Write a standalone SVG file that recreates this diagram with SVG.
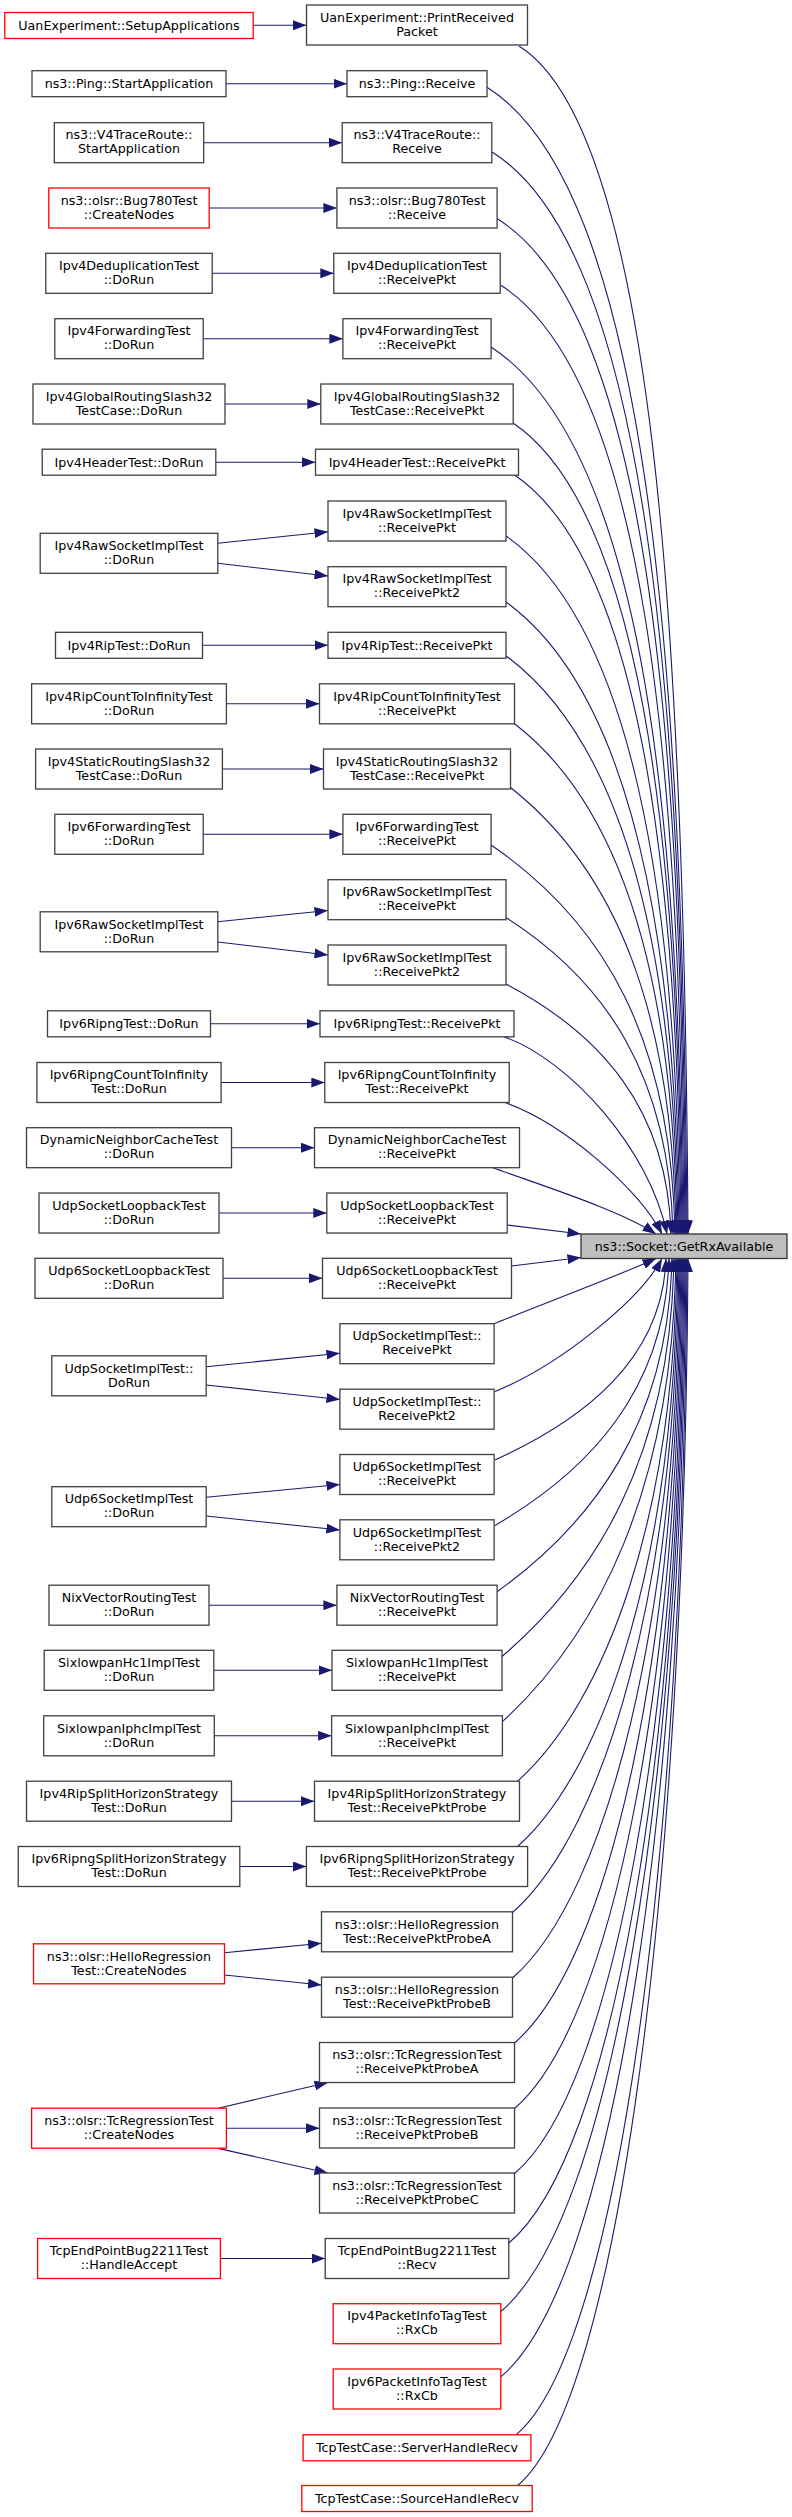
<svg xmlns="http://www.w3.org/2000/svg" width="792" height="2517" viewBox="0 0 792 2517">
<defs>
<marker id="ah" markerWidth="14" markerHeight="10" refX="13.5" refY="5" orient="auto" markerUnits="userSpaceOnUse" viewBox="0 0 14 10"><path d="M0,0 L13.5,5 L0,10 Z" fill="#191970"/></marker>
<style>
rect{fill:#ffffff;stroke:#404040;stroke-width:1.3}
.r rect{stroke:#ff0000}
.t rect{fill:#bfbfbf;stroke:#333333}
text{font-family:"DejaVu Sans","Liberation Sans",sans-serif;font-size:12.7px;text-anchor:middle;fill:#000000}
#edges path{fill:none;stroke:#191970;stroke-width:1.1;marker-end:url(#ah)}
</style>
</defs>
<rect x="0" y="0" width="792" height="2517" style="fill:#ffffff;stroke:none"/>

<g id="edges">
<path d="M253.2,25.3 L306.5,25.3"/>
<path d="M226,83.7 L347,83.7"/>
<path d="M203.4,142.7 L342.2,142.7"/>
<path d="M209.2,208 L336.9,208"/>
<path d="M212.2,273.3 L333.8,273.3"/>
<path d="M203.2,338.7 L342.9,338.7"/>
<path d="M225,404 L320.8,404"/>
<path d="M215.8,462.2 L315.5,462.2"/>
<path d="M217.8,543.3 L328,531.7"/>
<path d="M217.8,563.3 L328,576"/>
<path d="M202.5,645.3 L328,645.3"/>
<path d="M226.4,703.8 L319.5,703.8"/>
<path d="M222.4,769 L323.5,769"/>
<path d="M203.2,834.3 L342.9,834.3"/>
<path d="M217.8,921.7 L328,910.5"/>
<path d="M217.8,942 L328,955"/>
<path d="M210.5,1023.8 L320,1023.8"/>
<path d="M221.1,1082.5 L324.8,1082.5"/>
<path d="M231.5,1147.7 L314.5,1147.7"/>
<path d="M219,1213 L326.8,1213"/>
<path d="M223,1278.3 L322.5,1278.3"/>
<path d="M206.2,1366.7 L339.9,1353.3"/>
<path d="M206.2,1385 L339.9,1399.5"/>
<path d="M206.2,1497.3 L339.9,1484.5"/>
<path d="M206.2,1516 L339.9,1530"/>
<path d="M209,1605.2 L336.9,1605.2"/>
<path d="M213.8,1670.3 L332,1670.3"/>
<path d="M214.3,1735.8 L331.6,1735.8"/>
<path d="M231.5,1801.2 L314.5,1801.2"/>
<path d="M239.8,1866.5 L306.4,1866.5"/>
<path d="M224.5,1952.7 L321.5,1943.3"/>
<path d="M224.5,1975 L321.5,1985"/>
<path d="M218,2108.2 L328,2082.5"/>
<path d="M226.4,2128.2 L319.5,2128.2"/>
<path d="M218,2148.4 L328,2173"/>
<path d="M220.9,2258.5 L325.2,2258.5"/>

<path d="M519,46 C654.2,130.5 684.6,640 688,1234"/>
<path d="M487,87.3 C647,187.3 683,660.7 687,1234"/>
<path d="M492,152 C647.2,249 682.1,693 686,1234"/>
<path d="M497,218.5 C647.4,312.5 681.2,726.3 685,1234"/>
<path d="M500.5,285 C644.5,376.8 680.3,759.5 684,1234"/>
<path d="M491,347 C638.1,443 679.2,790.5 683,1234"/>
<path d="M513,423 C638.6,507.5 678.6,828.5 682,1234"/>
<path d="M515,475.2 C635.8,558.2 677.7,854.6 681,1234"/>
<path d="M506,536 C629.4,623 676.5,885 680,1234"/>
<path d="M506,602 C625.4,688.5 675.5,918 679,1234"/>
<path d="M506,655.7 C621.8,741.7 674.6,944.9 678,1234"/>
<path d="M514.5,723.8 C620.6,805 673.7,978.9 677,1234"/>
<path d="M510.5,787.5 C615.4,870.3 672.7,1010.8 676,1234"/>
<path d="M491.1,845 C604.6,922.8 671.3,1039.5 675,1234"/>
<path d="M506,917.5 C605.4,980.8 669.7,1075.8 673,1234"/>
<path d="M506,984 C600.9,1034 667.7,1109 671,1234"/>
<path d="M504,1036.8 C570,1060 650,1150 667,1234"/>
<path d="M505,1102.5 C565,1124 640,1190 662,1234"/>
<path d="M493,1167.7 C540,1185 620,1210 656,1234"/>
<path d="M507.2,1225 L581,1234"/>

<path d="M511.5,1266 L581,1257.5"/>
<path d="M494,1323.7 C540,1305 620,1275 656,1258.5"/>
<path d="M495,1391.5 C560,1365 640,1300 662,1258.5"/>
<path d="M495,1460 C583.9,1419.7 662.6,1359.3 666,1258.5"/>
<path d="M495,1525.5 C586.7,1472.1 665.5,1392 669,1258.5"/>
<path d="M497.1,1591.7 C590.3,1525.1 668.5,1425.1 672,1258.5"/>
<path d="M502,1656.5 C594.9,1576.9 670.6,1457.5 674,1258.5"/>
<path d="M502.4,1721.7 C597.2,1634.9 672.5,1490.1 676,1258.5"/>
<path d="M517.6,1781.2 C605.6,1701.5 673.8,1519.9 677,1258.5"/>
<path d="M517.6,1846.5 C607.3,1766.3 674.8,1552.5 678,1258.5"/>
<path d="M512.5,1912.5 C606.6,1829.3 675.7,1585.5 679,1258.5"/>
<path d="M512.5,1978 C608.3,1894.3 676.7,1618.3 680,1258.5"/>
<path d="M514.5,2043 C610.7,1959.8 677.7,1650.8 681,1258.5"/>
<path d="M514.5,2108.5 C612.5,2024.8 678.7,1683.5 682,1258.5"/>
<path d="M514.5,2173.5 C614.2,2089.3 679.6,1716 683,1258.5"/>
<path d="M508.8,2243 C613.6,2155.4 680.5,1750.8 684,1258.5"/>
<path d="M500.8,2311.5 C611.3,2219.4 681.3,1785 685,1258.5"/>
<path d="M500.8,2376.8 C612,2284.2 682.3,1817.7 686,1258.5"/>
<path d="M516,2434.8 C618.6,2349.3 683.6,1846.7 687,1258.5"/>
<path d="M517.6,2485.5 C619.8,2400.3 684.6,1872 688,1258.5"/>
</g>

<g id="target" class="t"><rect x="581" y="1234" width="206" height="24.5"/><text x="684" y="1250.6">ns3::Socket::GetRxAvailable</text></g>

<g id="L1" class="r"><rect x="4.8" y="12.5" width="248.4" height="26"/><text x="129" y="29.9">UanExperiment::SetupApplications</text></g>
<g id="L2"><rect x="32" y="70.7" width="194" height="26"/><text x="129" y="88.1">ns3::Ping::StartApplication</text></g>
<g id="L3"><rect x="54.3" y="122.7" width="149.4" height="40"/><text x="129" y="139.4">ns3::V4TraceRoute::</text><text x="129" y="153.4">StartApplication</text></g>
<g id="L4" class="r"><rect x="48.8" y="188" width="160.4" height="40"/><text x="129" y="204.7">ns3::olsr::Bug780Test</text><text x="129" y="218.7">::CreateNodes</text></g>
<g id="L5"><rect x="45.8" y="253.3" width="166.4" height="40"/><text x="129" y="270">Ipv4DeduplicationTest</text><text x="129" y="284">::DoRun</text></g>
<g id="L6"><rect x="54.8" y="318.7" width="148.4" height="40"/><text x="129" y="335.4">Ipv4ForwardingTest</text><text x="129" y="349.4">::DoRun</text></g>
<g id="L7"><rect x="33" y="384" width="192" height="40"/><text x="129" y="400.7">Ipv4GlobalRoutingSlash32</text><text x="129" y="414.7">TestCase::DoRun</text></g>
<g id="L8"><rect x="42.2" y="449.2" width="173.6" height="26"/><text x="129" y="466.6">Ipv4HeaderTest::DoRun</text></g>
<g id="L9"><rect x="40.2" y="533.3" width="177.6" height="40"/><text x="129" y="550">Ipv4RawSocketImplTest</text><text x="129" y="564">::DoRun</text></g>
<g id="L10"><rect x="55.5" y="632.3" width="147" height="26"/><text x="129" y="649.7">Ipv4RipTest::DoRun</text></g>
<g id="L11"><rect x="31.6" y="683.8" width="194.8" height="40"/><text x="129" y="700.5">Ipv4RipCountToInfinityTest</text><text x="129" y="714.5">::DoRun</text></g>
<g id="L12"><rect x="35.6" y="749" width="186.8" height="40"/><text x="129" y="765.7">Ipv4StaticRoutingSlash32</text><text x="129" y="779.7">TestCase::DoRun</text></g>
<g id="L13"><rect x="54.8" y="814.3" width="148.4" height="40"/><text x="129" y="831">Ipv6ForwardingTest</text><text x="129" y="845">::DoRun</text></g>
<g id="L14"><rect x="40.2" y="911.8" width="177.6" height="40"/><text x="129" y="928.5">Ipv6RawSocketImplTest</text><text x="129" y="942.5">::DoRun</text></g>
<g id="L15"><rect x="47.5" y="1010.8" width="163" height="26"/><text x="129" y="1028.2">Ipv6RipngTest::DoRun</text></g>
<g id="L16"><rect x="36.9" y="1062.5" width="184.2" height="40"/><text x="129" y="1079.2">Ipv6RipngCountToInfinity</text><text x="129" y="1093.2">Test::DoRun</text></g>
<g id="L17"><rect x="26.5" y="1127.7" width="205" height="40"/><text x="129" y="1144.4">DynamicNeighborCacheTest</text><text x="129" y="1158.4">::DoRun</text></g>
<g id="L18"><rect x="39" y="1193" width="180" height="40"/><text x="129" y="1209.7">UdpSocketLoopbackTest</text><text x="129" y="1223.7">::DoRun</text></g>
<g id="L19"><rect x="35" y="1258.3" width="188" height="40"/><text x="129" y="1275">Udp6SocketLoopbackTest</text><text x="129" y="1289">::DoRun</text></g>
<g id="L20"><rect x="51.8" y="1355.8" width="154.4" height="40"/><text x="129" y="1372.5">UdpSocketImplTest::</text><text x="129" y="1386.5">DoRun</text></g>
<g id="L21"><rect x="51.8" y="1486.7" width="154.4" height="40"/><text x="129" y="1503.4">Udp6SocketImplTest</text><text x="129" y="1517.4">::DoRun</text></g>
<g id="L22"><rect x="49" y="1585.2" width="160" height="40"/><text x="129" y="1601.9">NixVectorRoutingTest</text><text x="129" y="1615.9">::DoRun</text></g>
<g id="L23"><rect x="44.2" y="1650.3" width="169.6" height="40"/><text x="129" y="1667">SixlowpanHc1ImplTest</text><text x="129" y="1681">::DoRun</text></g>
<g id="L24"><rect x="43.7" y="1715.8" width="170.6" height="40"/><text x="129" y="1732.5">SixlowpanIphcImplTest</text><text x="129" y="1746.5">::DoRun</text></g>
<g id="L25"><rect x="26.5" y="1781.2" width="205" height="40"/><text x="129" y="1797.9">Ipv4RipSplitHorizonStrategy</text><text x="129" y="1811.9">Test::DoRun</text></g>
<g id="L26"><rect x="18.2" y="1846.5" width="221.6" height="40"/><text x="129" y="1863.2">Ipv6RipngSplitHorizonStrategy</text><text x="129" y="1877.2">Test::DoRun</text></g>
<g id="L27" class="r"><rect x="33.5" y="1943.8" width="191" height="40"/><text x="129" y="1960.5">ns3::olsr::HelloRegression</text><text x="129" y="1974.5">Test::CreateNodes</text></g>
<g id="L28" class="r"><rect x="31.6" y="2108.2" width="194.8" height="40"/><text x="129" y="2124.9">ns3::olsr::TcRegressionTest</text><text x="129" y="2138.9">::CreateNodes</text></g>
<g id="L29" class="r"><rect x="37.6" y="2238.5" width="182.8" height="40"/><text x="129" y="2255.2">TcpEndPointBug2211Test</text><text x="129" y="2269.2">::HandleAccept</text></g>

<g id="M1"><rect x="306.5" y="5" width="221" height="40"/><text x="417" y="21.7">UanExperiment::PrintReceived</text><text x="417" y="35.7">Packet</text></g>
<g id="M2"><rect x="347" y="70.7" width="140" height="26"/><text x="417" y="88.1">ns3::Ping::Receive</text></g>
<g id="M3"><rect x="342.2" y="122.7" width="149.6" height="40"/><text x="417" y="139.4">ns3::V4TraceRoute::</text><text x="417" y="153.4">Receive</text></g>
<g id="M4"><rect x="336.9" y="188" width="160.2" height="40"/><text x="417" y="204.7">ns3::olsr::Bug780Test</text><text x="417" y="218.7">::Receive</text></g>
<g id="M5"><rect x="333.8" y="253.3" width="166.4" height="40"/><text x="417" y="270">Ipv4DeduplicationTest</text><text x="417" y="284">::ReceivePkt</text></g>
<g id="M6"><rect x="342.9" y="318.7" width="148.2" height="40"/><text x="417" y="335.4">Ipv4ForwardingTest</text><text x="417" y="349.4">::ReceivePkt</text></g>
<g id="M7"><rect x="320.8" y="384" width="192.4" height="40"/><text x="417" y="400.7">Ipv4GlobalRoutingSlash32</text><text x="417" y="414.7">TestCase::ReceivePkt</text></g>
<g id="M8"><rect x="315.5" y="449.2" width="203" height="26"/><text x="417" y="466.6">Ipv4HeaderTest::ReceivePkt</text></g>
<g id="M9"><rect x="328" y="501" width="178" height="40"/><text x="417" y="517.7">Ipv4RawSocketImplTest</text><text x="417" y="531.7">::ReceivePkt</text></g>
<g id="M10"><rect x="328" y="566.7" width="178" height="40"/><text x="417" y="583.4">Ipv4RawSocketImplTest</text><text x="417" y="597.4">::ReceivePkt2</text></g>
<g id="M11"><rect x="328" y="632.3" width="178" height="26"/><text x="417" y="649.7">Ipv4RipTest::ReceivePkt</text></g>
<g id="M12"><rect x="319.5" y="683.8" width="195" height="40"/><text x="417" y="700.5">Ipv4RipCountToInfinityTest</text><text x="417" y="714.5">::ReceivePkt</text></g>
<g id="M13"><rect x="323.5" y="749" width="187" height="40"/><text x="417" y="765.7">Ipv4StaticRoutingSlash32</text><text x="417" y="779.7">TestCase::ReceivePkt</text></g>
<g id="M14"><rect x="342.9" y="814.3" width="148.2" height="40"/><text x="417" y="831">Ipv6ForwardingTest</text><text x="417" y="845">::ReceivePkt</text></g>
<g id="M15"><rect x="328" y="879.7" width="178" height="40"/><text x="417" y="896.4">Ipv6RawSocketImplTest</text><text x="417" y="910.4">::ReceivePkt</text></g>
<g id="M16"><rect x="328" y="945" width="178" height="40"/><text x="417" y="961.7">Ipv6RawSocketImplTest</text><text x="417" y="975.7">::ReceivePkt2</text></g>
<g id="M17"><rect x="320" y="1010.8" width="194" height="26"/><text x="417" y="1028.2">Ipv6RipngTest::ReceivePkt</text></g>
<g id="M18"><rect x="324.8" y="1062.5" width="184.4" height="40"/><text x="417" y="1079.2">Ipv6RipngCountToInfinity</text><text x="417" y="1093.2">Test::ReceivePkt</text></g>
<g id="M19"><rect x="314.5" y="1127.7" width="205" height="40"/><text x="417" y="1144.4">DynamicNeighborCacheTest</text><text x="417" y="1158.4">::ReceivePkt</text></g>
<g id="M20"><rect x="326.8" y="1193" width="180.4" height="40"/><text x="417" y="1209.7">UdpSocketLoopbackTest</text><text x="417" y="1223.7">::ReceivePkt</text></g>
<g id="M21"><rect x="322.5" y="1258.3" width="189" height="40"/><text x="417" y="1275">Udp6SocketLoopbackTest</text><text x="417" y="1289">::ReceivePkt</text></g>
<g id="M22"><rect x="339.9" y="1323.7" width="154.2" height="40"/><text x="417" y="1340.4">UdpSocketImplTest::</text><text x="417" y="1354.4">ReceivePkt</text></g>
<g id="M23"><rect x="339.9" y="1389.2" width="154.2" height="40"/><text x="417" y="1405.9">UdpSocketImplTest::</text><text x="417" y="1419.9">ReceivePkt2</text></g>
<g id="M24"><rect x="339.9" y="1454.5" width="154.2" height="40"/><text x="417" y="1471.2">Udp6SocketImplTest</text><text x="417" y="1485.2">::ReceivePkt</text></g>
<g id="M25"><rect x="339.9" y="1519.8" width="154.2" height="40"/><text x="417" y="1536.5">Udp6SocketImplTest</text><text x="417" y="1550.5">::ReceivePkt2</text></g>
<g id="M26"><rect x="336.9" y="1585.2" width="160.2" height="40"/><text x="417" y="1601.9">NixVectorRoutingTest</text><text x="417" y="1615.9">::ReceivePkt</text></g>
<g id="M27"><rect x="332" y="1650.3" width="170" height="40"/><text x="417" y="1667">SixlowpanHc1ImplTest</text><text x="417" y="1681">::ReceivePkt</text></g>
<g id="M28"><rect x="331.6" y="1715.8" width="170.8" height="40"/><text x="417" y="1732.5">SixlowpanIphcImplTest</text><text x="417" y="1746.5">::ReceivePkt</text></g>
<g id="M29"><rect x="314.5" y="1781.2" width="205" height="40"/><text x="417" y="1797.9">Ipv4RipSplitHorizonStrategy</text><text x="417" y="1811.9">Test::ReceivePktProbe</text></g>
<g id="M30"><rect x="306.4" y="1846.5" width="221.2" height="40"/><text x="417" y="1863.2">Ipv6RipngSplitHorizonStrategy</text><text x="417" y="1877.2">Test::ReceivePktProbe</text></g>
<g id="M31"><rect x="321.5" y="1911.8" width="191" height="40"/><text x="417" y="1928.5">ns3::olsr::HelloRegression</text><text x="417" y="1942.5">Test::ReceivePktProbeA</text></g>
<g id="M32"><rect x="321.5" y="1977.2" width="191" height="40"/><text x="417" y="1993.9">ns3::olsr::HelloRegression</text><text x="417" y="2007.9">Test::ReceivePktProbeB</text></g>
<g id="M33"><rect x="319.5" y="2042.5" width="195" height="40"/><text x="417" y="2059.2">ns3::olsr::TcRegressionTest</text><text x="417" y="2073.2">::ReceivePktProbeA</text></g>
<g id="M34"><rect x="319.5" y="2108" width="195" height="40"/><text x="417" y="2124.7">ns3::olsr::TcRegressionTest</text><text x="417" y="2138.7">::ReceivePktProbeB</text></g>
<g id="M35"><rect x="319.5" y="2173" width="195" height="40"/><text x="417" y="2189.7">ns3::olsr::TcRegressionTest</text><text x="417" y="2203.7">::ReceivePktProbeC</text></g>
<g id="M36"><rect x="325.2" y="2238.5" width="183.6" height="40"/><text x="417" y="2255.2">TcpEndPointBug2211Test</text><text x="417" y="2269.2">::Recv</text></g>
<g id="M37" class="r"><rect x="333.2" y="2303.7" width="167.6" height="40"/><text x="417" y="2320.4">Ipv4PacketInfoTagTest</text><text x="417" y="2334.4">::RxCb</text></g>
<g id="M38" class="r"><rect x="333.2" y="2369" width="167.6" height="40"/><text x="417" y="2385.7">Ipv6PacketInfoTagTest</text><text x="417" y="2399.7">::RxCb</text></g>
<g id="M39" class="r"><rect x="303.1" y="2434.8" width="227.8" height="26"/><text x="417" y="2452.2">TcpTestCase::ServerHandleRecv</text></g>
<g id="M40" class="r"><rect x="301.8" y="2485.5" width="230.4" height="26"/><text x="417" y="2502.9">TcpTestCase::SourceHandleRecv</text></g>
</svg>
